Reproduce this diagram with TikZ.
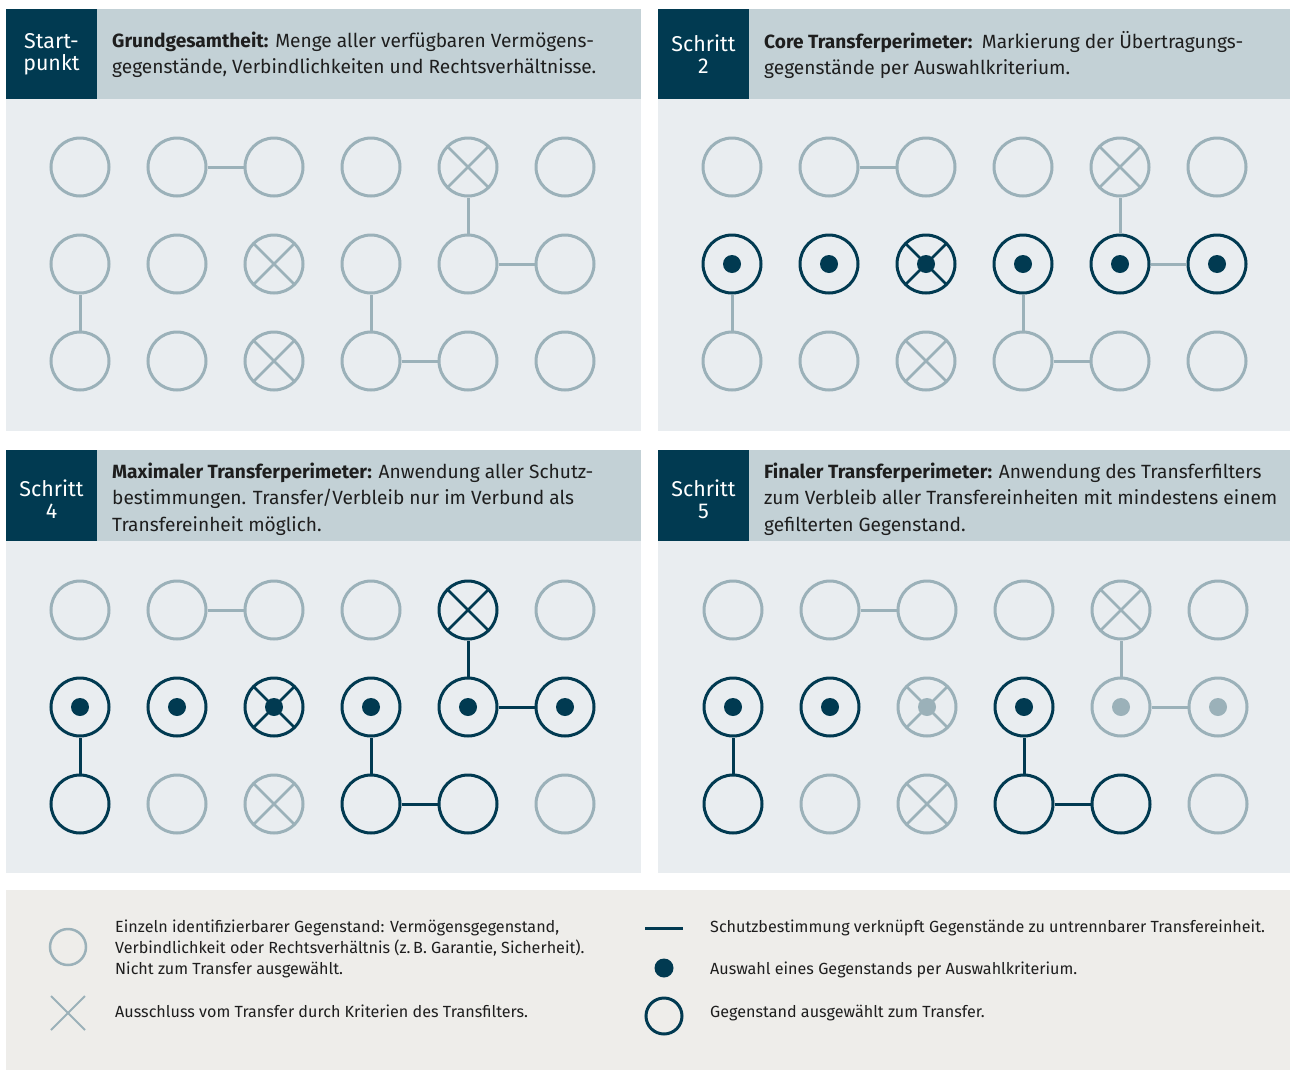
\documentclass[tikz,border=0pt]{standalone}
\usepackage{fontspec}
\setmainfont{Fira Sans}
\usetikzlibrary{shapes.misc}

\definecolor{navy}{HTML}{013A51}
\definecolor{ash}{HTML}{9BB1B9}
\definecolor{pane}{HTML}{E9EDF0}
\definecolor{head}{HTML}{C3D1D6}
\definecolor{paper}{HTML}{EEEDEA}
\definecolor{ink}{HTML}{1E1E1E}

% One panel: a 3 x 6 grid of items and the six links between them.
% Per panel styles n-<row>-<col> and l-<k> change single items and links.
\newcommand{\itemgrid}[1]{%
    \foreach \r in {1, 2, 3}{%
        \foreach \c in {1, ..., 6}{%
            \node[item, n-\r-\c/.try] (#1-\r-\c) at ({97*(\c-1)}, {97*(\r-1)}) {};
        }
    }
    \draw[link, l-1/.try] (#1-1-2) -- (#1-1-3);
    \draw[link, l-2/.try] (#1-1-5) -- (#1-2-5);
    \draw[link, l-3/.try] (#1-2-5) -- (#1-2-6);
    \draw[link, l-4/.try] (#1-2-1) -- (#1-3-1);
    \draw[link, l-5/.try] (#1-2-4) -- (#1-3-4);
    \draw[link, l-6/.try] (#1-3-4) -- (#1-3-5);
}

\begin{document}
\begin{tikzpicture}[%
        x = 1bp,
        y = -1bp,
        item/.style = {circle, draw = ash, line width = 3bp,
            minimum size = 58bp, inner sep = 0pt},
        picked/.style = {draw = navy},
        struck/.style = {path picture = {%
            \draw[#1, line width = 2.5bp]
                (path picture bounding box.north west) --
                (path picture bounding box.south east)
                (path picture bounding box.north east) --
                (path picture bounding box.south west);}},
        struck/.default = ash,
        dot/.style = {append after command = {%
            node[circle, fill = #1, minimum size = 18bp, inner sep = 0pt]
                at (\tikzlastnode.center) {}}},
        dot/.default = navy,
        link/.style = {draw = ash, line width = 3bp},
        live/.style = {draw = navy},
        n-1-5/.style = {struck},
        n-2-3/.style = {struck},
        n-3-3/.style = {struck},
        tag/.style = {text = white, align = center,
            font = \fontsize{21.5}{22}\selectfont},
        note/.style = {anchor = west, align = left, text = ink,
            inner sep = 0pt, font = \fontsize{19.2}{26.5}\selectfont},
        key/.style = {anchor = west, align = left, text = ink,
            inner sep = 0pt, font = \fontsize{16.2}{21}\selectfont}
    ]

        \useasboundingbox[fill = white] (0, 0) rectangle (1291, 1071);

        % Panel backgrounds, header bars and step tags.
        \fill[pane] (6, 9) rectangle (641, 431);
        \fill[pane] (658, 9) rectangle (1290, 431);
        \fill[pane] (6, 450) rectangle (641, 873);
        \fill[pane] (658, 450) rectangle (1290, 873);
        \fill[head] (97, 9) rectangle (641, 99);
        \fill[head] (749, 9) rectangle (1290, 99);
        \fill[head] (97, 450) rectangle (641, 541);
        \fill[head] (749, 450) rectangle (1290, 541);
        \fill[navy] (6, 9) rectangle (97, 99);
        \fill[navy] (658, 9) rectangle (749, 99);
        \fill[navy] (6, 450) rectangle (97, 541);
        \fill[navy] (658, 450) rectangle (749, 541);
        \fill[paper] (6, 890) rectangle (1290, 1070);

        % Header texts.
        \node[tag] (tag-a) at (51.5, 54) {Start-\\punkt};
        \node[tag] (tag-b) at (703.5, 54) {Schritt\\2};
        \node[tag] (tag-c) at (51.5, 499) {Schritt\\4};
        \node[tag] (tag-d) at (703.5, 499) {Schritt\\5};

        \node[note] (note-a) at (112, 55) {\textbf{Grundgesamtheit:} Menge aller verfügbaren Vermögens-\\gegenstände, Verbindlichkeiten und Rechtsverhältnisse.};
        \node[note] (note-b) at (764, 55) {\textbf{Core Transferperimeter:}\enspace Markierung der Übertragungs-\\gegenstände per Auswahlkriterium.};
        \node[note] (note-c) at (112, 499) {\textbf{Maximaler Transferperimeter:} Anwendung aller Schutz-\\bestimmungen. Transfer/Verbleib nur im Verbund als\\Transfereinheit möglich.};
        \node[note] (note-d) at (764, 499) {\textbf{Finaler Transferperimeter:} Anwendung des Transferfilters\\zum Verbleib aller Transfereinheiten mit mindestens einem\\gefilterten Gegenstand.};

        % Startpunkt: nothing is chosen yet.
        \begin{scope}[shift = {(80, 167)}]
            \itemgrid{a}
        \end{scope}

        % Schritt 2: the middle row is chosen by the criterion.
        \begin{scope}[shift = {(732, 167)},
                n-2-1/.style = {picked, dot},
                n-2-2/.style = {picked, dot},
                n-2-3/.style = {struck = navy, picked, dot},
                n-2-4/.style = {picked, dot},
                n-2-5/.style = {picked, dot},
                n-2-6/.style = {picked, dot}]
            \itemgrid{b}
        \end{scope}

        % Schritt 4: whole units follow their chosen items.
        \begin{scope}[shift = {(80, 610)},
                n-1-5/.style = {struck = navy, picked},
                n-2-1/.style = {picked, dot},
                n-2-2/.style = {picked, dot},
                n-2-3/.style = {struck = navy, picked, dot},
                n-2-4/.style = {picked, dot},
                n-2-5/.style = {picked, dot},
                n-2-6/.style = {picked, dot},
                n-3-1/.style = {picked},
                n-3-4/.style = {picked},
                n-3-5/.style = {picked},
                l-2/.style = {live}, l-3/.style = {live}, l-4/.style = {live},
                l-5/.style = {live}, l-6/.style = {live}]
            \itemgrid{c}
        \end{scope}

        % Schritt 5: units holding a filtered item stay behind.
        \begin{scope}[shift = {(733, 610)},
                n-2-1/.style = {picked, dot},
                n-2-2/.style = {picked, dot},
                n-2-3/.style = {struck, dot = ash},
                n-2-4/.style = {picked, dot},
                n-2-5/.style = {dot = ash},
                n-2-6/.style = {dot = ash},
                n-3-1/.style = {picked},
                n-3-4/.style = {picked},
                n-3-5/.style = {picked},
                l-4/.style = {live}, l-5/.style = {live}, l-6/.style = {live}]
            \itemgrid{d}
        \end{scope}

        % Legend.
        \node[item, line width = 2.5bp, minimum size = 36bp] (lg-item) at (68, 947) {};
        \node[cross out, draw = ash, line width = 2bp, minimum size = 32bp,
            inner sep = 0pt] (lg-cross) at (68, 1013) {};
        \coordinate (lg-from) at (645, 928);
        \coordinate (lg-to) at (683, 928);
        \draw[navy, line width = 3bp] (lg-from) -- (lg-to);
        \node[circle, fill = navy, minimum size = 19bp, inner sep = 0pt] (lg-dot) at (664, 968) {};
        \node[item, picked, minimum size = 36bp] (lg-picked) at (664, 1016) {};

        \node[key] (key-item) at (115, 949) {Einzeln identifizierbarer Gegenstand: Vermögensgegenstand,\\Verbindlichkeit oder Rechtsverhältnis (z.\,B. Garantie, Sicherheit).\\Nicht zum Transfer ausgewählt.};
        \node[key] (key-cross) at (115, 1011) {Ausschluss vom Transfer durch Kriterien des Transfilters.};
        \node[key] (key-link) at (710, 928) {Schutzbestimmung verknüpft Gegenstände zu untrennbarer Transfereinheit.};
        \node[key] (key-dot) at (710, 970) {Auswahl eines Gegenstands per Auswahlkriterium.};
        \node[key] (key-picked) at (710, 1013) {Gegenstand ausgewählt zum Transfer.};
    \end{tikzpicture}
\end{document}
